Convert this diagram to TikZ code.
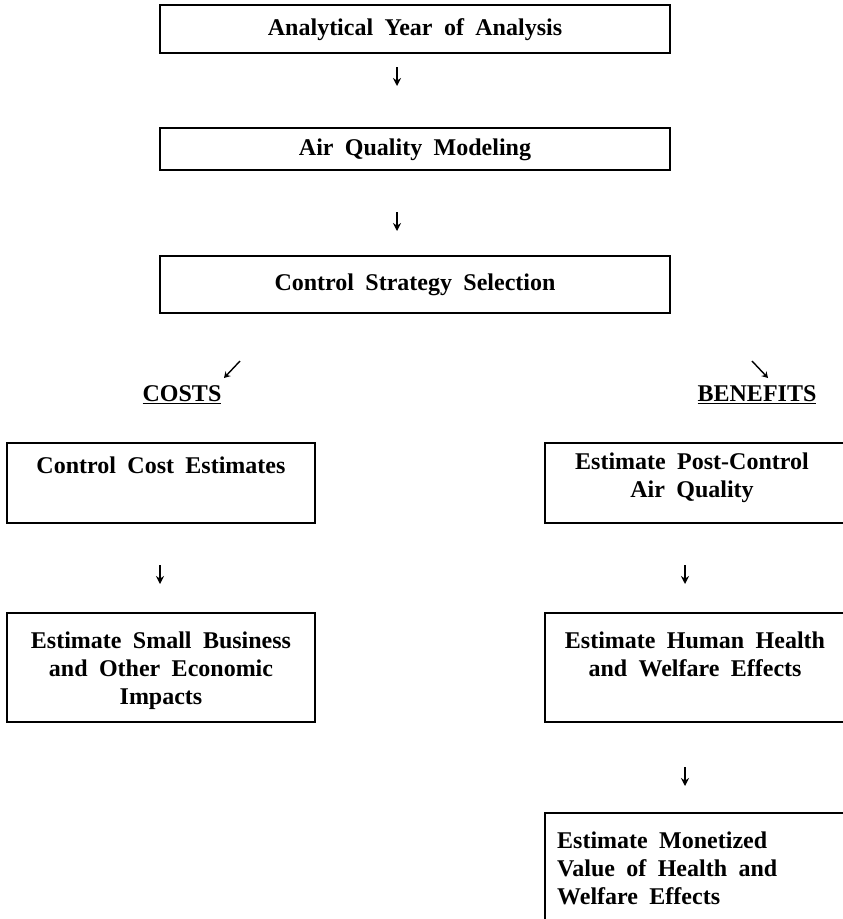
\documentclass[tikz,border=0pt]{standalone}
\usepackage{fontspec}
\setmainfont[WordSpace=1.9]{Liberation Serif}
\usetikzlibrary{arrows.meta}
\tikzset{
  box/.style={draw, line width=1.5pt, rectangle, inner sep=0pt},
  txt/.style={font=\bfseries\fontsize{24}{28}\selectfont, inner sep=0pt, align=center},
  txtl/.style={font=\bfseries\fontsize{24}{28}\selectfont, inner sep=0pt, align=left, anchor=west},
  varr/.style={line width=1.8pt, -{Stealth[length=8pt,width=8pt]}},
  darr/.style={line width=1.4pt, -{Stealth[length=6pt,width=7pt]}},
  head/.style={font=\bfseries\fontsize{24}{26}\selectfont, inner sep=0pt}
}
\begin{document}
\begin{tikzpicture}[x=1pt,y=-1pt]
\clip (0,0) rectangle (843,919);
\useasboundingbox (0,0) rectangle (843,919);
% top column
\node[box, minimum width=510pt, minimum height=48pt] (b1) at (415,29) {};
\node[txt] (t1) at (415,30) {Analytical Year of Analysis};
\node[box, minimum width=510pt, minimum height=42pt] (b2) at (415,149) {};
\node[txt] (t2) at (415,150) {Air Quality Modeling};
\node[box, minimum width=510pt, minimum height=57pt] (b3) at (415,284.5) {};
\node[txt] (t3) at (415,285) {Control Strategy Selection};
\coordinate (a1s) at (397,67); \coordinate (a1e) at (397,86);
\draw[varr] (a1s) -- (a1e);
\coordinate (a2s) at (397,212); \coordinate (a2e) at (397,231);
\draw[varr] (a2s) -- (a2e);
% diagonal arrows
\coordinate (dls) at (240,361); \coordinate (dle) at (224,378);
\draw[darr] (dls) -- (dle);
\coordinate (drs) at (752,361); \coordinate (dre) at (768,378);
\draw[darr] (drs) -- (dre);
% headings
\node[head] (costs) at (182,395) {\underline{COSTS}};
\node[head] (benef) at (757,395) {\underline{BENEFITS}};
% left column
\node[box, minimum width=308pt, minimum height=80pt] (cce) at (161,483) {};
\node[txt] (tcce) at (161,465) {Control Cost Estimates};
\coordinate (a3s) at (160,565); \coordinate (a3e) at (160,584);
\draw[varr] (a3s) -- (a3e);
\node[box, minimum width=308pt, minimum height=109pt] (esb) at (161,667.5) {};
\node[txt] (tesb) at (161,671) {Estimate Small Business\\and Other Economic\\Impacts};
% right column
\node[box, minimum width=320pt, minimum height=80pt] (epc) at (705,483) {};
\node[txt] (tepc) at (692,478) {Estimate Post-Control\\Air Quality};
\coordinate (a4s) at (685,565); \coordinate (a4e) at (685,584);
\draw[varr] (a4s) -- (a4e);
\node[box, minimum width=320pt, minimum height=109pt] (ehh) at (705,667.5) {};
\node[txt] (tehh) at (695,654) {Estimate Human Health\\and Welfare Effects};
\coordinate (a5s) at (685,767); \coordinate (a5e) at (685,786);
\draw[varr] (a5s) -- (a5e);
\node[box, minimum width=320pt, minimum height=140pt] (emv) at (705,883) {};
\node[txtl] (temv) at (557,868) {Estimate Monetized\\Value of Health and\\Welfare Effects};
\end{tikzpicture}
\end{document}
